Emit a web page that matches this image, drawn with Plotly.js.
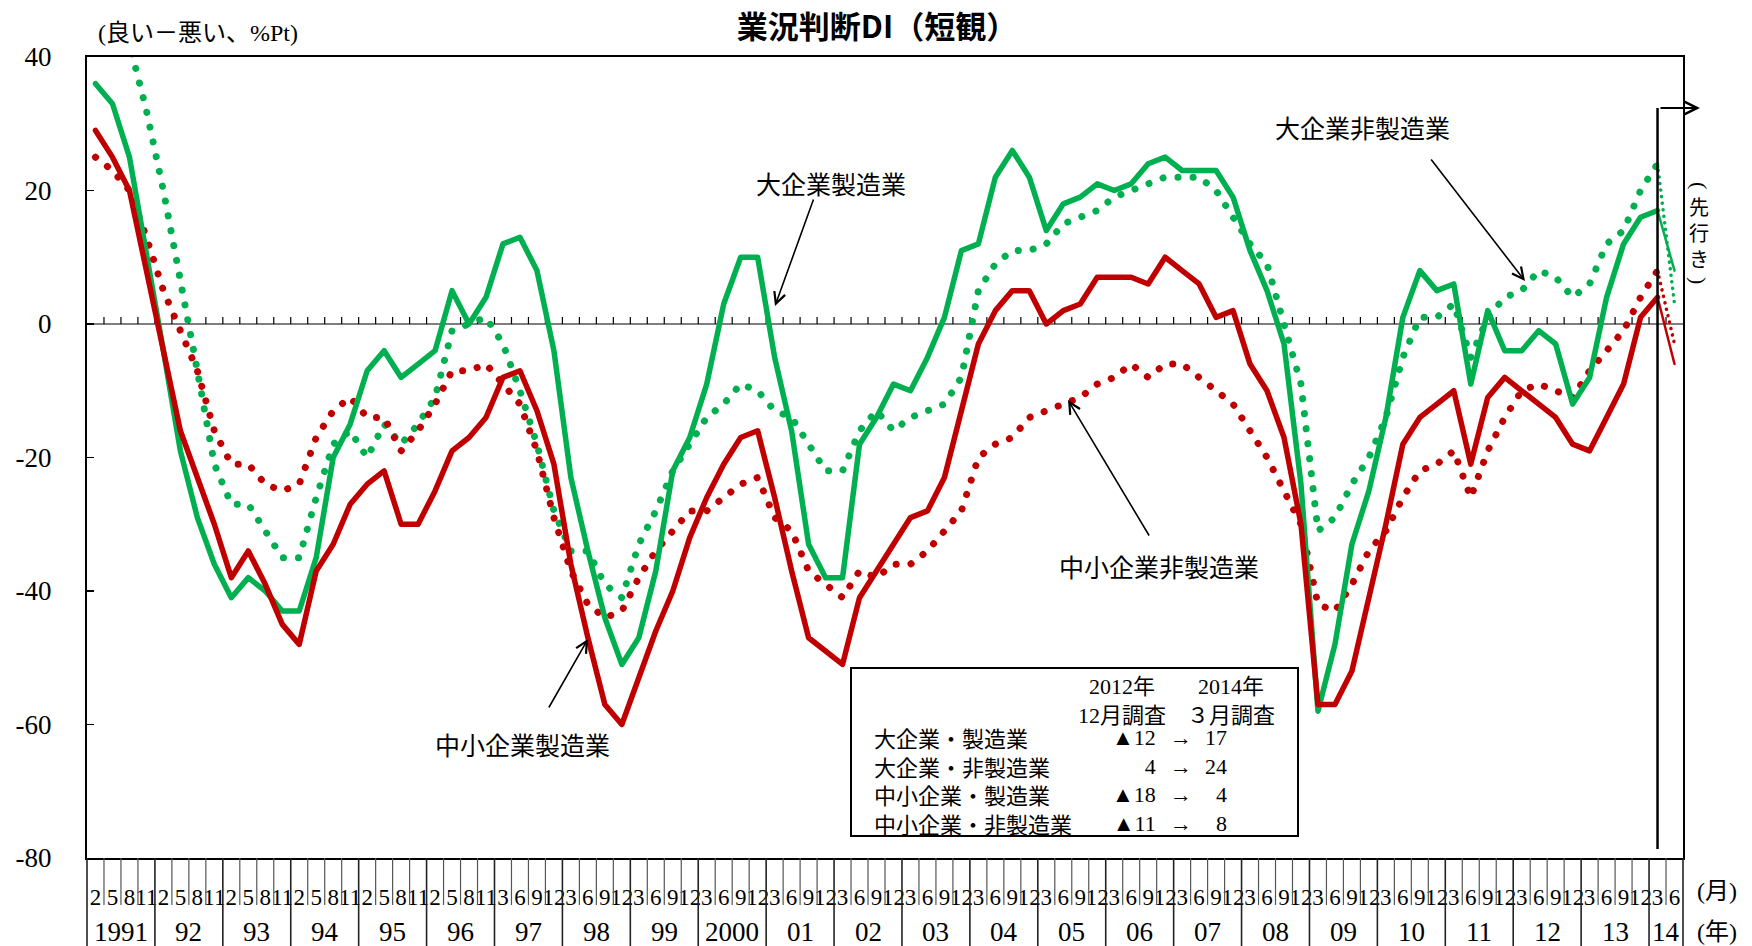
<!DOCTYPE html>
<html><head><meta charset="utf-8">
<script src="https://cdn.plot.ly/plotly-3.0.1.min.js"></script>
<style>
html,body{margin:0;padding:0;background:#fff;}
#chart{width:1752px;height:946px;}
.js-line{stroke-linecap:round !important;stroke-linejoin:round !important;}
</style></head><body><div id="chart"></div>
<script>
// ---------------- data ----------------
const oldMonths = ['2','5','8','11'];
const newMonths = ['3','6','9','12'];
const lastYearMonths = ['3','6'];
const yearLabels = ['1991','92','93','94','95','96','97','98','99','2000','01','02','03','04','05','06','07','08','09','10','11','12','13','14'];
const firstNewScheduleYear = 6; // '97'

// 大企業製造業
const largeMfg = [36,33,25,11, -4,-19,-29,-36, -41,-38,-40,-43, -43,-35,-20,-15, -7,-4,-8,-6, -4,5,0,4,
  12,13,8,-4, -23,-34,-44,-51, -47,-37,-22,-17, -9,3,10,10, -5,-16,-33,-38, -38,-18,-14,-9,
  -10,-5,1,11, 12,22,26,22, 14,18,19,21, 20,21,24,25, 23,23,23,19, 11,5,-3,-24,
  -58,-48,-33,-25, -14,1,8,5, 6,-9,2,-4, -4,-1,-3,-12, -8,4,12,16, 17];
// 大企業非製造業
const largeNonMfg = [50,48,42,32, 20,7,-7,-21, -27,-27,-31,-35, -35,-26,-18,-16, -20,-15,-18,-15, -11,-1,0,1,
  -3,-10,-18,-28, -34,-34,-39,-41, -33,-28,-22,-18, -14,-12,-9,-10, -13,-14,-18,-22, -22,-16,-13,-16,
  -14,-13,-12,-8, 5,9,11,11, 12,15,16,17, 19,20,21,22, 22,22,20,16, 12,9,0,-9,
  -31,-29,-24,-20, -14,-5,1,1, 3,-5,1,4, 5,8,7,4, 6,12,14,20, 24];
// 中小企業製造業
const smallMfg = [29,25,20,8, -4,-16,-23,-30, -38,-34,-39,-45, -48,-37,-33,-27, -24,-22,-30,-30, -25,-19,-17,-14,
  -8,-7,-13,-21, -36,-47,-57,-60, -53,-46,-40,-32, -26,-21,-17,-16, -26,-37,-47,-49, -51,-41,-37,-33,
  -29,-28,-23,-13, -3,2,5,5, 0,2,3,7, 7,7,6,10, 8,6,1,2, -6,-10,-17,-30,
  -57,-57,-52,-41, -30,-18,-14,-12, -10,-21,-11,-8, -10,-12,-14,-18, -19,-14,-9,1, 4];
// 中小企業非製造業
const smallNonMfg = [25,23,20,13, 5,-1,-7,-16, -21,-21,-24,-25, -24,-17,-13,-11, -14,-14,-19,-16, -12,-7,-7,-6,
  -9,-12,-19,-29, -37,-42,-44,-43, -38,-34,-31,-28, -28,-26,-24,-23, -29,-31,-37,-39, -41,-37,-38,-36,
  -36,-34,-31,-28, -20,-18,-17,-14, -13,-12,-11,-9, -8,-6,-8,-6, -6,-8,-10,-12, -16,-20,-25,-30,
  -42,-43,-39,-34, -31,-26,-22,-21, -19,-26,-19,-14, -10,-9,-10,-11, -7,-4,-1,4, 8];
// 先行き (2014年6月)
const forecastLargeMfg = 8;
const forecastLargeNonMfg = 3;
const forecastSmallMfg = -6;
const forecastSmallNonMfg = -3;

const yTickVals = [-80,-60,-40,-20,0,20,40];
const yTickLabels = ['-80','-60','-40','-20','0','20','40'];

const tableRows = ['大企業・製造業','大企業・非製造業','中小企業・製造業','中小企業・非製造業'];
const tableDec2012 = [-12, 4, -18, -11];
const tableMar2014 = [17, 24, 4, 8];

// ---------------- build categories ----------------
const monthLabels = [];
const yearSpans = [];
yearLabels.forEach((y, k) => {
  const ms = (k === yearLabels.length - 1) ? lastYearMonths : (k < firstNewScheduleYear ? oldMonths : newMonths);
  yearSpans.push({label: y, start: monthLabels.length, count: ms.length});
  ms.forEach(m => monthLabels.push(m));
});
const N = monthLabels.length;
const idx = monthLabels.map((_, i) => i);
const xActual = idx.slice(0, largeMfg.length);
const iLast = largeMfg.length - 1;
const xFc = [iLast, iLast + 1];

// ---------------- geometry helpers ----------------
const Lp = 87, Rp = 1683, Tp = 57, Bp = 858;
const Wp = Rp - Lp, Hp = Bp - Tp;
const px = v => (v - Lp) / Wp;
const py = v => (Bp - v) / Hp;
const pxPerUnit = Hp / 120;

const GREEN = '#00B050', RED = '#C00000';
const SERIF = '"Liberation Serif", "Noto Sans CJK JP", serif';
const CJK = '"Noto Sans CJK JP", "Noto Sans", sans-serif';

function mainTrace(y, color, dotted) {
  return {x: xActual, y: y, type: 'scatter', mode: 'lines', hoverinfo: 'skip', showlegend: false,
    line: {color: color, width: dotted ? 7 : 5.5, dash: dotted ? '0.1px,15px' : 'solid'}};
}
function fcTrace(y0, y1, color, dotted) {
  return {x: xFc, y: [y0, y1], type: 'scatter', mode: 'lines', hoverinfo: 'skip', showlegend: false,
    line: {color: color, width: dotted ? 3.5 : 2.5, dash: dotted ? '0.1px,6.5px' : 'solid'}};
}
const traces = [
  mainTrace(largeNonMfg, GREEN, true),
  mainTrace(smallNonMfg, RED, true),
  mainTrace(largeMfg, GREEN, false),
  mainTrace(smallMfg, RED, false),
  fcTrace(largeNonMfg[iLast], forecastLargeNonMfg, GREEN, true),
  fcTrace(smallNonMfg[iLast], forecastSmallNonMfg, RED, true),
  fcTrace(largeMfg[iLast], forecastLargeMfg, GREEN, false),
  fcTrace(smallMfg[iLast], forecastSmallMfg, RED, false)
];

// ---------------- shapes ----------------
const shapes = [];
shapes.push({type: 'line', xref: 'paper', yref: 'y', x0: 0, x1: 1, y0: 0, y1: 0,
  line: {color: '#000', width: 1.2}, layer: 'below'});
for (let b = 1; b < N; b++) {
  shapes.push({type: 'line', xref: 'paper', yref: 'y', x0: b / N, x1: b / N, y0: 0, y1: 7 / pxPerUnit,
    line: {color: '#000', width: 1.2}, layer: 'below'});
}
const yearStarts = new Set(yearSpans.map(s => s.start));
for (let b = 0; b <= N; b++) {
  const isYear = (b === 0 || b === N || yearStarts.has(b));
  shapes.push({type: 'line', xref: 'paper', yref: 'paper', x0: b / N, x1: b / N,
    y0: 0, y1: isYear ? py(946) : py(905),
    line: {color: isYear ? '#222' : '#555', width: isYear ? 1.6 : 1.2}});
}
// forecast divider
shapes.push({type: 'line', xref: 'x', yref: 'paper', x0: iLast, x1: iLast, y0: py(849), y1: py(108),
  line: {color: '#000', width: 2.5}});
// table box
shapes.push({type: 'rect', xref: 'paper', yref: 'paper', x0: px(851), x1: px(1298), y0: py(836), y1: py(668),
  line: {color: '#000', width: 2}, fillcolor: '#fff', layer: 'above'});

// ---------------- annotations ----------------
const ann = [];
function txt(text, x, y, size, family, xanchor, extra) {
  ann.push(Object.assign({text: text, x: px(x), y: py(y), xref: 'paper', yref: 'paper', showarrow: false,
    xanchor: xanchor || 'center', yanchor: 'middle', align: xanchor || 'center',
    font: {size: size, family: family || CJK, color: '#000'}}, extra || {}));
}
function arrow(tip, tail, width, size) {
  ann.push({text: '', x: px(tip[0]), y: py(tip[1]), xref: 'paper', yref: 'paper', showarrow: true,
    ax: tail[0] - tip[0], ay: tail[1] - tip[1], arrowhead: 5, arrowsize: size || 1.4,
    arrowwidth: width || 1.6, arrowcolor: '#000'});
}
txt('(良い－悪い、%Pt)', 96, 33, 24, SERIF, 'left');

txt('大企業製造業', 831, 183, 25);
arrow([775, 306], [814, 198]);
txt('大企業非製造業', 1362, 127, 25);
arrow([1525, 281], [1430, 158]);
txt('中小企業非製造業', 1159, 566, 25);
arrow([1068, 400], [1150, 537]);
txt('中小企業製造業', 522, 744, 25);
arrow([588, 639], [548, 709]);

// table (one multi-line text per column)
const fmt = v => (v < 0 ? '▲' + Math.abs(v) : String(v));
txt('2012年<br>12月調査', 1122, 701, 22, SERIF);
txt('2014年<br>３月調査', 1231, 701, 22, SERIF);
txt(tableRows.join('<br>'), 872, 780, 22, CJK, 'left');
txt(tableDec2012.map(fmt).join('<br>'), 1158, 780, 22, SERIF, 'right');
txt(tableRows.map(() => '→').join('<br>'), 1181, 780, 22, SERIF, 'center');
txt(tableMar2014.map(fmt).join('<br>'), 1229, 780, 22, SERIF, 'right');

// year labels
yearSpans.forEach(s => {
  ann.push({text: s.label, x: (s.start + s.count / 2) / N, y: py(932), xref: 'paper', yref: 'paper',
    showarrow: false, xanchor: 'center', yanchor: 'middle', font: {size: 27, family: SERIF, color: '#000'}});
});
txt('(月)', 1717, 891, 24, SERIF);
txt('(年)', 1717, 932, 24, SERIF);

// (先行き) vertical
txt('(', 1699, 185, 22, SERIF, 'center', {textangle: 90});
txt('先<br>行<br>き', 1699, 233, 20, CJK);
txt(')', 1699, 280, 22, SERIF, 'center', {textangle: 90});
arrow([1700, 108], [1659, 108], 2, 1.3);

const layout = {
  width: 1752, height: 946,
  margin: {l: Lp, r: 1752 - Rp, t: Tp, b: 946 - Bp, pad: 0},
  paper_bgcolor: '#fff', plot_bgcolor: '#fff',
  showlegend: false,
  title: {text: '<b>業況判断DI（短観）</b>', font: {family: CJK, size: 31, color: '#000'},
    x: 877 / 1752, xref: 'container', xanchor: 'center', y: 1 - 27 / 946, yref: 'container', yanchor: 'middle'},
  xaxis: {range: [-0.5, N - 0.5], tickvals: idx, ticktext: monthLabels, ticks: '', showgrid: false,
    zeroline: false, showline: true, mirror: true, linecolor: '#000', linewidth: 2,
    tickfont: {family: SERIF, size: 23, color: '#000'}, ticklabelstandoff: 17, tickangle: 0},
  yaxis: {range: [-80, 40], tickvals: yTickVals, ticktext: yTickLabels, ticks: 'inside', ticklen: 7,
    tickwidth: 1.5, tickcolor: '#000', showgrid: false, zeroline: false, showline: true, mirror: true,
    linecolor: '#000', linewidth: 2, tickfont: {family: SERIF, size: 27, color: '#000'}, ticklabelstandoff: 28},
  shapes: shapes,
  annotations: ann
};
Plotly.newPlot('chart', traces, layout, {staticPlot: true, displayModeBar: false});
</script></body></html>
